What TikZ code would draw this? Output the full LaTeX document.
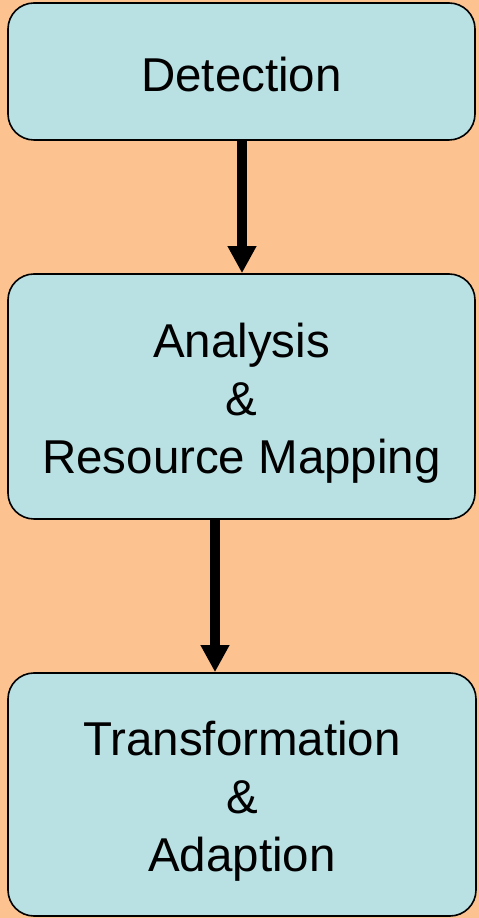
\documentclass[tikz,border=0pt]{standalone}
\usepackage{fontspec}
\setmainfont{Liberation Sans}
\usetikzlibrary{arrows.meta}
\definecolor{bgorange}{HTML}{FCC391}
\definecolor{boxcyan}{HTML}{B9E0E3}
\begin{document}
\begin{tikzpicture}[x=1pt,y=1pt,
  stagebox/.style={draw=black, fill=boxcyan, line width=1.6pt,
    rounded corners=26pt, inner sep=0pt},
  stagetext/.style={align=center, inner sep=0pt,
    font=\fontsize{47.5}{58}\selectfont},
  flowarrow/.style={line width=10pt,
    -{Triangle[width=27pt 0,length=27pt 0]}}]
  % page background
  \fill[bgorange] (0,0) rectangle (479,918);
  \useasboundingbox (0,0) rectangle (479,918);
  % the three stages
  \node[stagebox, minimum width=467pt, minimum height=137pt]
    (det) at (241.5,846.5) {};
  \node[stagetext] (detlbl) at ([yshift=-3pt]det.center) {Detection};
  \node[stagebox, minimum width=467pt, minimum height=245pt]
    (ana) at (241.5,521.5) {};
  \node[stagetext] (analbl) at ([yshift=-7pt]ana.center)
    {Analysis\\\&\\Resource Mapping};
  \node[stagebox, minimum width=468pt, minimum height=243pt]
    (tra) at (242,123.5) {};
  \node[stagetext] (tralbl) at ([yshift=-7pt]tra.center)
    {Transformation\\\&\\Adaption};
  % arrow columns
  \coordinate (c1) at (242,0);
  \coordinate (c2) at (215,0);
  \draw[flowarrow] (det.south -| c1) -- (ana.north -| c1);
  \draw[flowarrow] (ana.south -| c2) -- (tra.north -| c2);
\end{tikzpicture}
\end{document}
